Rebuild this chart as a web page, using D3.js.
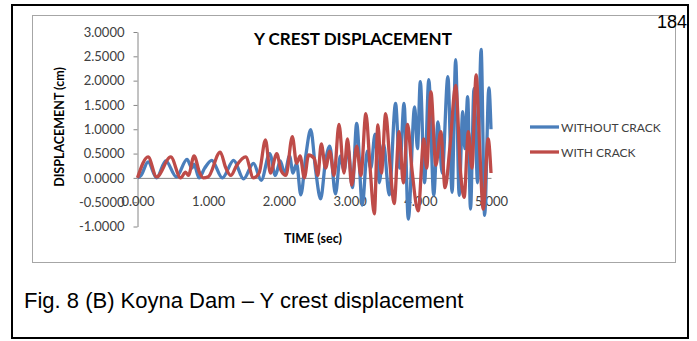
<!DOCTYPE html>
<html>
<head>
<meta charset="utf-8">
<script src="https://cdn.jsdelivr.net/npm/d3@7"></script>
<style>
  html, body { margin: 0; padding: 0; background: #fff; }
  svg { display: block; }
  .tick text { font-family: Lato, "Open Sans", sans-serif; fill: #404040; }
</style>
</head>
<body>
<svg id="chart" width="697" height="341"></svg>
<script>
// Crest displacement (cm) against time (sec), without and with crack
const withoutCrackTime = [0.00, 0.05, 0.15, 0.27, 0.40, 0.55, 0.70, 0.77, 0.80, 0.87, 0.95, 1.05, 1.20, 1.36, 1.50, 1.64, 1.75, 1.87, 1.95, 2.02, 2.08, 2.15, 2.20, 2.25, 2.31, 2.38, 2.45, 2.52, 2.59, 2.66, 2.72, 2.80, 2.87, 2.92, 2.98, 3.04, 3.10, 3.18, 3.25, 3.30, 3.36, 3.42, 3.48, 3.56, 3.65, 3.71, 3.77, 3.83, 3.92, 3.96, 4.00, 4.06, 4.12, 4.19, 4.25, 4.31, 4.39, 4.45, 4.50, 4.55, 4.60, 4.63, 4.67, 4.71, 4.76, 4.81, 4.86, 4.91, 4.97, 5.00];
const withoutCrackDisp = [0.00, 0.05, 0.33, 0.00, 0.35, 0.02, 0.38, 0.20, 0.28, 0.00, 0.20, 0.36, 0.00, 0.36, -0.02, 0.30, -0.05, 0.50, 0.05, 0.35, 0.08, 0.45, 0.10, 0.30, -0.35, 0.45, 0.99, 0.15, -0.43, 0.35, 0.65, -0.33, 0.45, 0.15, 0.60, -0.20, 1.12, -0.56, 0.55, 0.20, 0.90, -0.10, 0.70, -0.35, 1.53, 0.20, 1.53, -0.85, 1.46, 0.60, 1.98, -0.10, 2.02, -0.36, 1.15, 0.10, 2.08, -0.30, 2.43, -0.36, 1.36, 0.60, 1.67, -0.64, 1.84, -0.10, 2.64, -0.77, 1.85, 1.00];

const withCrackTime = [0.00, 0.15, 0.27, 0.47, 0.61, 0.68, 0.72, 0.80, 0.88, 0.93, 1.00, 1.17, 1.25, 1.32, 1.40, 1.53, 1.64, 1.72, 1.81, 1.88, 1.97, 2.03, 2.10, 2.19, 2.25, 2.30, 2.36, 2.42, 2.50, 2.55, 2.60, 2.66, 2.72, 2.78, 2.85, 2.92, 2.97, 3.03, 3.10, 3.16, 3.23, 3.29, 3.35, 3.40, 3.45, 3.51, 3.57, 3.63, 3.70, 3.76, 3.82, 3.88, 3.97, 4.05, 4.09, 4.15, 4.22, 4.29, 4.35, 4.42, 4.50, 4.57, 4.62, 4.68, 4.73, 4.79, 4.84, 4.89, 4.96, 5.00];
const withCrackDisp = [0.00, 0.43, 0.02, 0.43, 0.00, 0.12, 0.05, 0.45, 0.10, 0.00, 0.02, 0.53, 0.20, 0.05, 0.25, 0.43, 0.00, 0.10, 0.78, 0.10, 0.50, 0.15, 0.05, 0.85, 0.30, 0.45, 0.00, 0.47, 0.40, 0.05, 0.70, 0.20, 0.55, 0.05, 1.10, 0.10, 0.80, -0.15, 0.65, 0.05, 1.32, 0.20, -0.74, 1.09, 0.10, 1.32, 0.30, -0.53, 0.95, -0.10, 1.10, 0.20, -0.68, 0.80, 0.20, 1.77, 0.26, 0.95, -0.20, 0.65, 1.90, 0.10, -0.40, 0.95, 0.20, 2.12, 0.60, -0.64, 0.80, 0.10];

const seriesNames = ["WITHOUT CRACK", "WITH CRACK"];
const seriesColors = ["#4a7ebb", "#be4b48"];
const yTicks = [-1, -0.5, 0, 0.5, 1, 1.5, 2, 2.5, 3];
const xTicks = [0, 1, 2, 3, 4, 5];

const series = [
  { name: seriesNames[0], color: seriesColors[0], pts: withoutCrackTime.map((t, i) => [t, withoutCrackDisp[i]]) },
  { name: seriesNames[1], color: seriesColors[1], pts: withCrackTime.map((t, i) => [t, withCrackDisp[i]]) }
];

const svg = d3.select("#chart");
const fmt = d3.formatLocale({ decimal: ".", thousands: ",", grouping: [3], currency: ["", ""], minus: "-" });

// outer figure frame
svg.append("rect").attr("x", 12).attr("y", 5).attr("width", 676).attr("height", 333)
  .attr("fill", "none").attr("stroke", "#000").attr("stroke-width", 2);

// chart area border
svg.append("rect").attr("x", 32.5).attr("y", 15.5).attr("width", 643).attr("height", 247)
  .attr("fill", "#fff").attr("stroke", "#a6a6a6").attr("stroke-width", 1);

const x = d3.scaleLinear().domain([0, 5]).range([137.5, 491]);
const y = d3.scaleLinear().domain([-1, 3]).range([226.5, 32]);

// vertical axis
const yAxis = svg.append("g").attr("transform", `translate(${x(0)},0)`)
  .call(d3.axisLeft(y).tickValues(yTicks).tickFormat(fmt.format(".4f")).tickSize(4).tickPadding(9).tickSizeOuter(0));
yAxis.select(".domain").attr("stroke", "#868686");
yAxis.selectAll(".tick line").attr("stroke", "#868686");
yAxis.selectAll(".tick text").attr("font-size", 13);

// horizontal axis crossing at zero
const xAxis = svg.append("g").attr("transform", `translate(0,${y(0)})`)
  .call(d3.axisBottom(x).tickValues(xTicks).tickFormat(fmt.format(".3f")).tickSize(0).tickPadding(19).tickSizeOuter(0));
xAxis.select(".domain").attr("stroke", "#868686");
xAxis.selectAll(".tick text").attr("font-size", 13);

// series lines
const line = d3.line().x(d => x(d[0])).y(d => y(d[1])).curve(d3.curveMonotoneX);
svg.append("g").selectAll("path").data(series).join("path")
  .attr("d", d => line(d.pts))
  .attr("fill", "none")
  .attr("stroke", d => d.color)
  .attr("stroke-width", 3.3)
  .attr("stroke-linejoin", "round");

// titles
svg.append("text").attr("x", 353).attr("y", 45).attr("text-anchor", "middle")
  .attr("font-family", "Lato, 'Open Sans', sans-serif").attr("font-weight", "bold").attr("font-size", 17)
  .attr("fill", "#000").text("Y CREST DISPLACEMENT");

svg.append("text").attr("transform", "translate(64,127) rotate(-90)").attr("text-anchor", "middle")
  .attr("font-family", "Lato, 'Open Sans', sans-serif").attr("font-weight", "bold").attr("font-size", 12.5)
  .attr("fill", "#000").text("DISPLACEMENT (cm)");

svg.append("text").attr("x", 313).attr("y", 243).attr("text-anchor", "middle")
  .attr("font-family", "Lato, 'Open Sans', sans-serif").attr("font-weight", "bold").attr("font-size", 12.5)
  .attr("fill", "#000").text("TIME (sec)");

// legend
const legend = svg.append("g").selectAll("g").data(series).join("g")
  .attr("transform", (d, i) => `translate(530,${127 + i * 25})`);
legend.append("line").attr("x1", 0).attr("x2", 29).attr("y1", 0).attr("y2", 0)
  .attr("stroke", d => d.color).attr("stroke-width", 3.3);
legend.append("text").attr("x", 31).attr("y", 4.5)
  .attr("font-family", "Lato, 'Open Sans', sans-serif").attr("font-size", 12)
  .attr("fill", "#404040").text(d => d.name);

// page number and caption
svg.append("text").attr("x", 657).attr("y", 28)
  .attr("font-family", "'Liberation Sans', Arial, sans-serif").attr("font-size", 18)
  .attr("fill", "#000").text("184");

svg.append("text").attr("x", 24).attr("y", 308)
  .attr("font-family", "'Liberation Sans', Arial, sans-serif").attr("font-size", 22)
  .attr("fill", "#000").text("Fig. 8 (B) Koyna Dam – Y crest displacement");
</script>
</body>
</html>
